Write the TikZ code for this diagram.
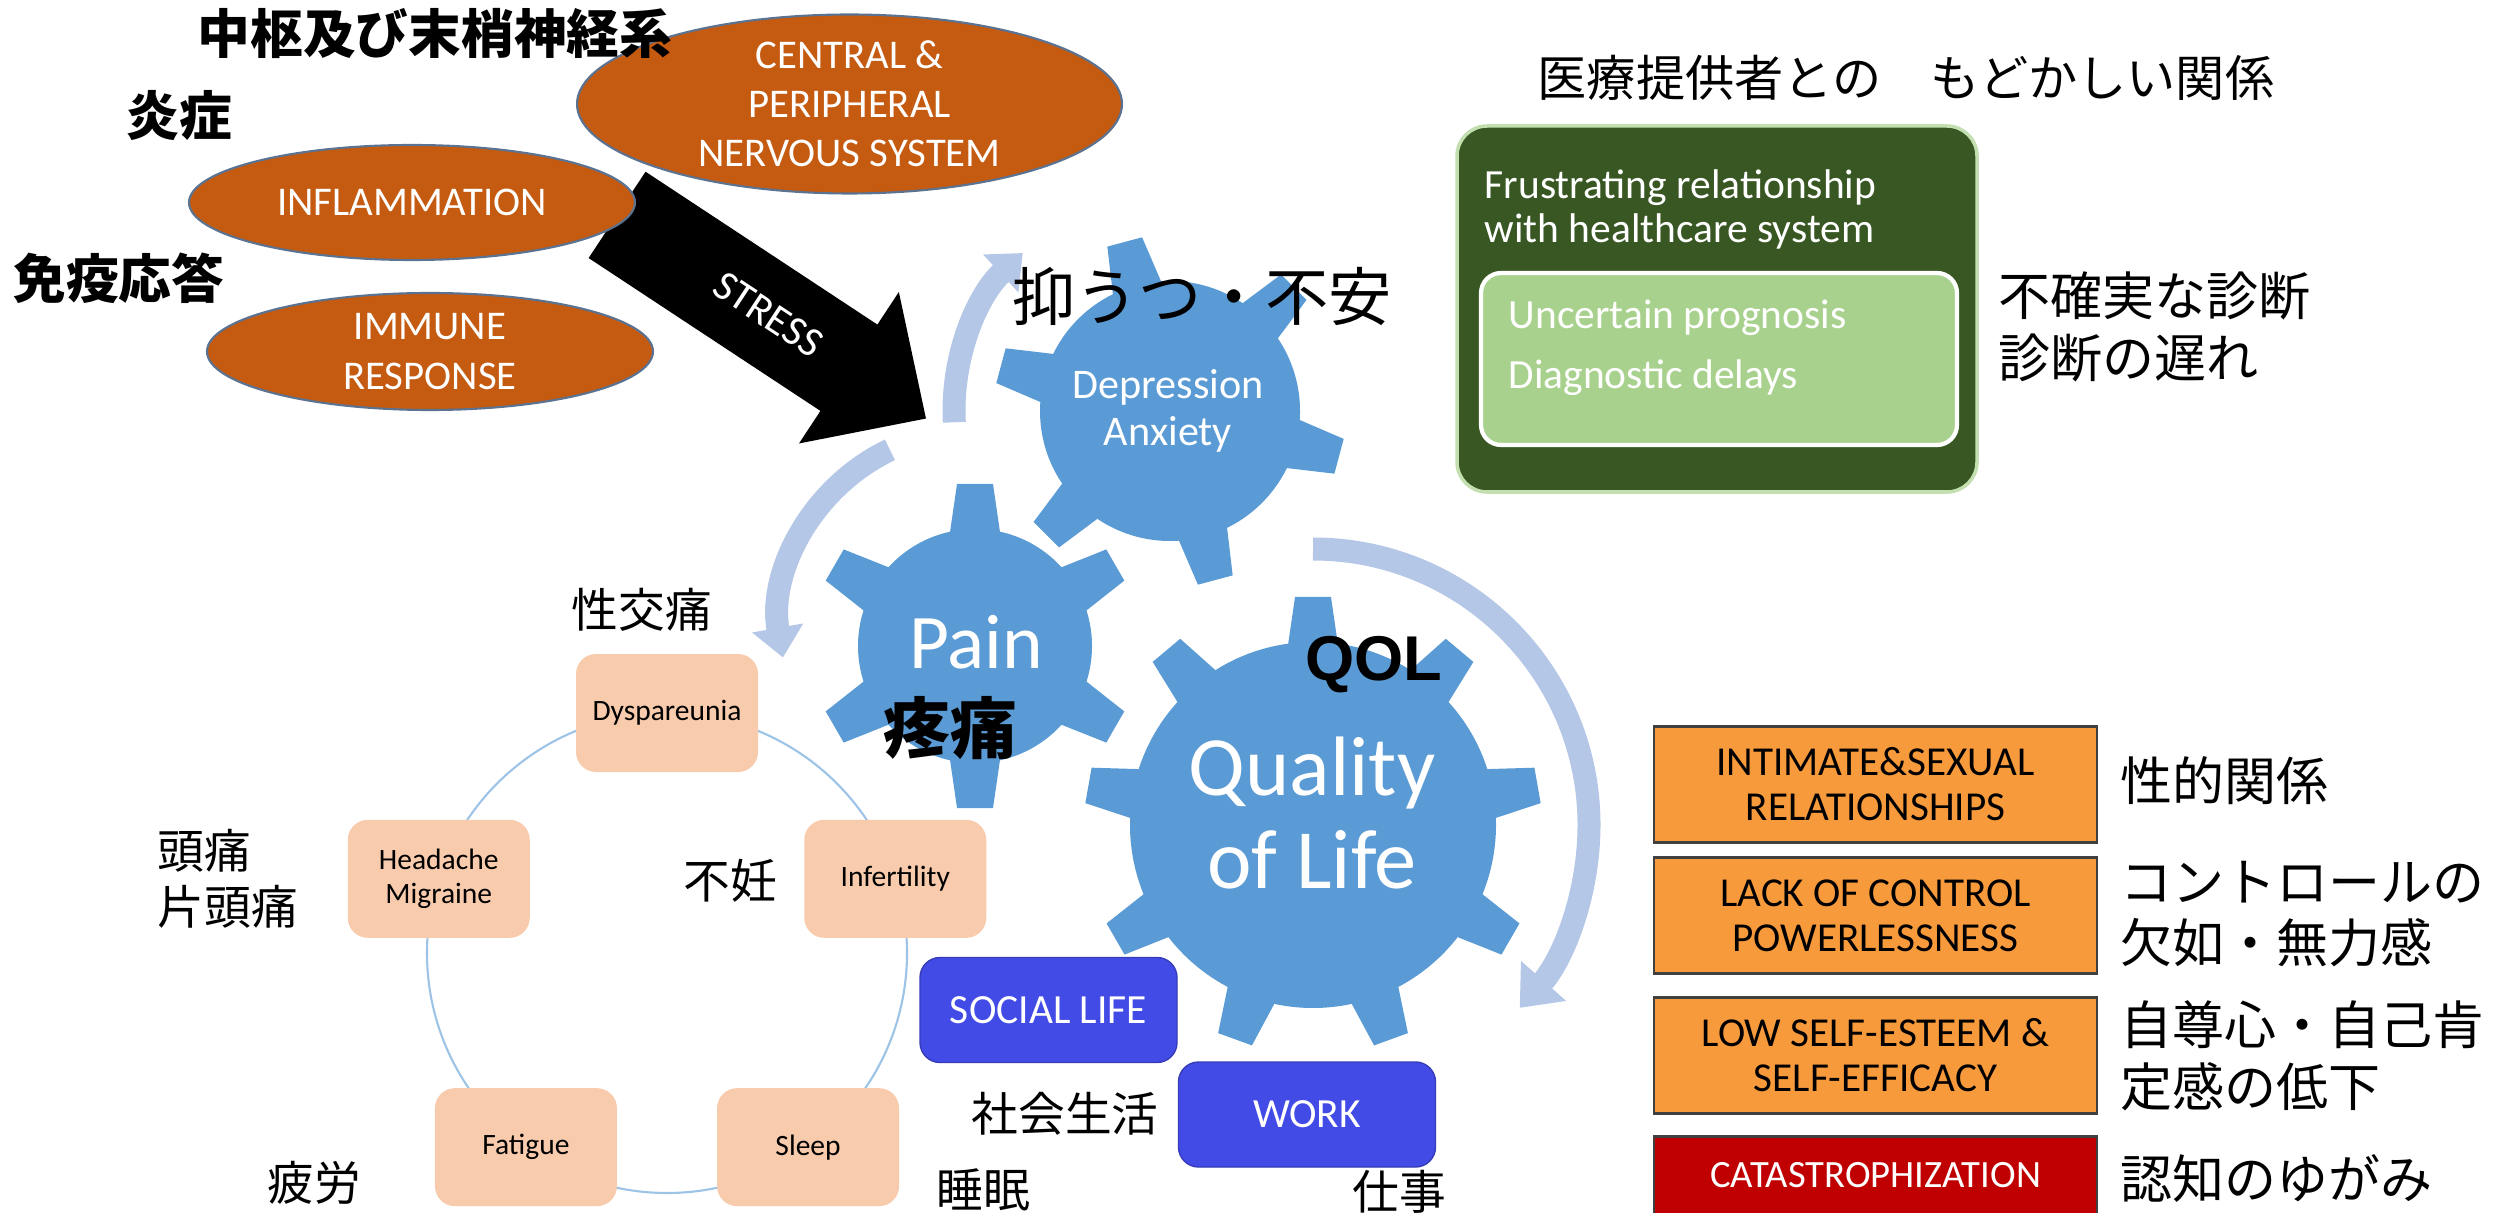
\documentclass[tikz,border=0pt]{standalone}
\usepackage{fontspec}
\setmainfont{Carlito}
\newfontfamily\jp{Noto Sans CJK JP}
\newfontfamily\arialbold{Liberation Sans}
\usetikzlibrary{shapes.geometric,shapes.arrows,arrows.meta}

\definecolor{gearblue}{HTML}{5B9BD5}
\definecolor{cycleblue}{HTML}{B4C7E7}
\definecolor{causeorange}{HTML}{C55A11}
\definecolor{causeline}{HTML}{5B7290}
\definecolor{darkgreen}{HTML}{385723}
\definecolor{lightgreen}{HTML}{A9D18E}
\definecolor{peach}{HTML}{F8CBAD}
\definecolor{ringblue}{HTML}{9DC3E6}
\definecolor{lifeblue}{HTML}{434BE6}
\definecolor{impactorange}{HTML}{F79A3C}
\definecolor{darkred}{HTML}{C00000}

% center, body radius, tip radius, teeth, first angle
\newcommand{\cogwheel}[5]{%
  \fill[gearblue] (#1) circle (#2);
  \foreach \k in {1,...,#4}{
    \pgfmathsetmacro{\toothang}{#5+360*(\k-1)/#4}
    \fill[gearblue, shift={(#1)}, rotate=\toothang] (#2-0.1,-0.26) -- (#3,-0.18) -- (#3,0.18) -- (#2-0.1,0.26) -- cycle;
  }
}

\begin{document}
\begin{tikzpicture}[
  causeell/.style={ellipse, fill=causeorange, draw=causeline, line width=0.6pt, text=white, align=center, inner sep=0pt, font=\fontsize{11.6}{14}\selectfont},
  jplabel/.style={inner sep=0pt, font=\jp\fontsize{13.3}{16}\selectfont},
  jpbig/.style={inner sep=0pt, align=left, font=\jp\fontsize{14.8}{17.6}\selectfont},
  jpbold/.style={inner sep=0pt, font=\jp\bfseries\fontsize{15}{18}\selectfont},
  cyclearrow/.style={draw=cycleblue, line width=0.23cm, -{Triangle[width=0.5cm,length=0.3cm]}},
  symbox/.style={fill=peach, rounded corners=0.2cm, minimum width=1.82cm, minimum height=1.18cm, align=center, inner sep=0pt, font=\fontsize{8.4}{9.5}\selectfont},
  lifebox/.style={fill=lifeblue, draw=lifeblue!80!black, line width=0.4pt, rounded corners=0.2cm, minimum width=2.57cm, minimum height=1.05cm, text=white, font=\fontsize{11.8}{14}\selectfont},
  impactbox/.style={fill=impactorange, draw=black!75, line width=0.8pt, minimum width=4.43cm, minimum height=1.16cm, align=center, inner sep=0pt, font=\fontsize{11.7}{12.8}\selectfont}
]
\useasboundingbox (0,0) rectangle (25.06,-12.13);

% causes
\coordinate (stressTail) at (6.165,-2.145);
\node[single arrow, fill=black, text=white, rotate=-33.4, anchor=tail, minimum height=3.70cm,
      single arrow head extend=0.39cm, single arrow tip angle=89, text height=0.27cm, text depth=0cm,
      inner ysep=0.375cm, inner xsep=0pt, font=\fontsize{12}{14}\selectfont] (stress) at (stressTail) {\hspace{0.45cm}STRESS};
\node[causeell, minimum width=5.45cm, minimum height=1.68cm] (cns) at (8.495,-1.04) {CENTRAL \&\\PERIPHERAL\\NERVOUS SYSTEM};
\node[causeell, minimum width=4.46cm, minimum height=1.15cm] (infl) at (4.12,-2.025) {INFLAMMATION};
\node[causeell, minimum width=4.46cm, minimum height=1.17cm] (imm) at (4.30,-3.515) {IMMUNE\\RESPONSE};
\node[jpbold] (cnsJP) at (4.35,-0.34) {中枢及び末梢神経系};
\node[jpbold] (inflJP) at (1.79,-1.16) {炎症};
\node[jpbold] (immJP) at (1.19,-2.78) {免疫応答};

% gears
\coordinate (dep) at (11.70,-4.11);
\coordinate (pain) at (9.75,-6.46);
\coordinate (qol) at (13.13,-8.25);
\cogwheel{dep}{1.30}{1.75}{6}{105}
\cogwheel{pain}{1.17}{1.62}{6}{90}
\cogwheel{qol}{1.83}{2.28}{9}{90}
\node[text=white, align=center, font=\fontsize{12}{13.4}\selectfont] (depText) at (11.68,-4.11) {Depression\\Anxiety};
\node[text=white, font=\fontsize{22}{26}\selectfont] (painText) at (9.76,-6.42) {Pain};
\node[text=white, align=center, font=\fontsize{24}{26.7}\selectfont] (qolText) at (13.12,-8.13) {Quality\\of Life};

\draw[cyclearrow] ([shift={(183:2.16)}]dep) arc[start angle=183, end angle=133, radius=2.16];
\coordinate (painLoop) at (9.73,-6.24);
\draw[cyclearrow] ([shift={(115.5:1.93)}]painLoop) arc[start angle=115.5, end angle=190, radius=1.93];
\draw[cyclearrow, -{Triangle[width=0.58cm,length=0.36cm]}] ([shift={(90:2.76)}]qol) arc[start angle=90, end angle=-41.5, radius=2.76];

\node[inner sep=0pt, font=\jp\fontsize{18}{20}\selectfont] (depJP) at (12.02,-2.96) {抑うつ・不安};
\node[inner sep=0pt, font=\arialbold\bfseries\fontsize{18}{20}\selectfont] (qolJP) at (13.74,-6.65) {QOL};
\node[inner sep=0pt, font=\jp\bfseries\fontsize{19}{22}\selectfont] (painJP) at (9.50,-7.28) {疼痛};

% pain cycle
\coordinate (cyc) at (6.67,-9.53);
\draw[ringblue, line width=0.6pt] (cyc) circle (2.40);
\node[symbox] (dysp) at ([shift={(90:2.4)}]cyc) {Dyspareunia};
\node[symbox] (infert) at ([shift={(18:2.4)}]cyc) {Infertility};
\node[symbox] (sleep) at ([shift={(-54:2.4)}]cyc) {Sleep};
\node[symbox] (fatigue) at ([shift={(-126:2.4)}]cyc) {Fatigue};
\node[symbox] (headache) at ([shift={(162:2.4)}]cyc) {Headache\\Migraine};
\node[jplabel] (dyspJP) at (6.42,-6.10) {性交痛};
\node[jplabel] (infertJP) at (7.30,-8.81) {不妊};
\node[jplabel, align=left, anchor=west] (headacheJP) at (1.57,-8.79) {頭痛\\片頭痛};
\node[jplabel] (fatigueJP) at (3.14,-11.83) {疲労};
\node[jplabel] (sleepJP) at (9.83,-11.90) {睡眠};

% life areas
\node[lifebox] (social) at (10.485,-10.10) {SOCIAL LIFE};
\node[lifebox] (work) at (13.07,-11.145) {WORK};
\node[jplabel] (socialJP) at (10.65,-11.14) {社会生活};
\node[jplabel] (workJP) at (13.99,-11.92) {仕事};

% healthcare
\node[inner sep=0pt, font=\jp\fontsize{14}{17}\selectfont] (careJP) at (19.06,-0.78) {医療提供者との　もどかしい関係};
\node[fill=darkgreen, draw=lightgreen!70, line width=1pt, rounded corners=0.3cm, minimum width=5.20cm, minimum height=3.66cm] (care) at (17.17,-3.09) {};
\node[fill=lightgreen, draw=white, line width=1.2pt, rounded corners=0.2cm, minimum width=4.76cm, minimum height=1.72cm] (careIn) at (17.19,-3.59) {};
\node[anchor=west, align=left, text=white, inner sep=0pt, font=\fontsize{11.8}{12.5}\selectfont] (careTitle) at (14.84,-2.095) {Frustrating relationship\\with healthcare system};
\node[anchor=west, align=left, text=white, inner sep=0pt, font=\fontsize{11.8}{17}\selectfont] (careItems) at (15.08,-3.475) {Uncertain prognosis\\Diagnostic delays};
\node[jpbig, anchor=west] (careItemsJP) at (19.98,-3.27) {不確実な診断\\診断の遅れ};

% impacts
\node[impactbox] (intim) at (18.755,-7.845) {INTIMATE\&SEXUAL\\RELATIONSHIPS};
\node[impactbox] (control) at (18.755,-9.155) {LACK OF CONTROL\\POWERLESSNESS};
\node[impactbox] (esteem) at (18.755,-10.555) {LOW SELF-ESTEEM \&\\SELF-EFFICACY};
\node[impactbox, fill=darkred, text=white, minimum height=0.78cm, font=\fontsize{11}{13}\selectfont] (catas) at (18.755,-11.755) {CATASTROPHIZATION};
\node[jpbig, anchor=west] (intimJP) at (21.20,-7.81) {性的関係};
\node[jpbig, anchor=west] (controlJP) at (21.20,-9.14) {コントロールの\\欠如・無力感};
\node[jpbig, anchor=west] (esteemJP) at (21.20,-10.56) {自尊心・自己肯\\定感の低下};
\node[jpbig, anchor=west] (catasJP) at (21.20,-11.78) {認知のゆがみ};
\end{tikzpicture}
\end{document}
